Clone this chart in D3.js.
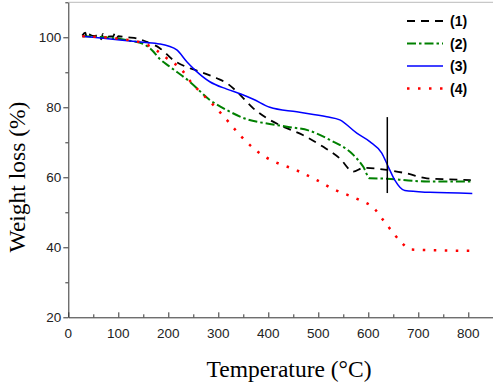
<!DOCTYPE html>
<html lang="en">
<head>
  <meta charset="UTF-8">
  <title>TGA</title>
  <script src="https://cdn.jsdelivr.net/npm/d3@7"></script>
  <style>
    body { margin: 0; background: #fff; }
  </style>
</head>
<body>
  <svg id="chart" width="493" height="383"></svg>
  <script>
    // [temperature (°C), weight (%)]
    let curve1 = [[28,100.5],[34,101.3],[37,99.8],[41,100.8],[50,100.4],[63,100.6],[66,99.4],[69,101.0],[73,100.2],
      [90,100.3],[93,101.2],[96,99.6],[100,100.3],[120,100.0],[137,99.7],[157,98.7],[183,96.9],[210,93.5],[235,91.6],
      [257,90.5],[297,88.3],[320,86.6],[337,84.5],[370,79.7],[397,76.9],[423,74.9],[470,72.0],[510,68.7],[543,65.4],
      [570,61.6],[590,62.7],[637,62.1],[677,61.1],[717,59.7],[760,59.4],[805,59.2]];
    let curve2 = [[28,100.3],[60,100.1],[100,99.6],[123,99.0],[150,98.1],[167,96.4],[183,93.8],[203,91.6],[243,87.3],
      [283,82.1],[317,79.2],[357,76.6],[400,75.3],[440,74.4],[480,73.4],[523,70.7],[570,66.4],[590,63.0],[603,59.7],
      [637,59.6],[680,59.1],[717,58.8],[807,58.8]];
    let curve3 = [[28,100.3],[70,99.7],[150,98.6],[183,98.1],[200,97.5],[217,96.4],[237,93.0],[253,90.7],[283,87.3],
      [317,85.2],[345,83.8],[370,82.3],[403,80.0],[457,78.7],[517,77.3],[543,76.4],[577,72.6],[603,70.2],[627,66.9],
      [640,63.0],[653,59.2],[673,56.2],[723,55.7],[808,55.4]];
    let curve4 = [[28,100.3],[100,99.6],[150,98.3],[177,96.2],[197,94.0],[227,90.7],[247,86.9],[270,83.5],[293,80.2],
      [320,75.9],[343,72.1],[367,68.7],[393,65.9],[423,63.8],[450,62.4],[467,61.3],[497,59.2],[530,56.6],[563,54.7],
      [583,53.5],[613,50.9],[627,48.3],[640,45.9],[653,43.5],[667,41.3],[683,39.4],[720,39.2],[803,39.0]];
    let labels = ['(1)', '(2)', '(3)', '(4)'];
    let xTicks = [0, 100, 200, 300, 400, 500, 600, 700, 800];
    let yTicks = [20, 40, 60, 80, 100];
    let marker = [638, 55.5, 77.2]; // vertical line: temperature, from, to

    let series = [
      { name: labels[0], data: curve1, color: '#000000', dash: '8,6', width: 1.8 },
      { name: labels[1], data: curve2, color: '#008000', dash: '9,3,2.5,3', width: 2 },
      { name: labels[2], data: curve3, color: '#0000ff', dash: null, width: 1.5 },
      { name: labels[3], data: curve4, color: '#ff0000', dash: '2.5,8.5', width: 2.5 }
    ];

    let svg = d3.select('#chart');
    let mLeft = 68.3, mBottom = 317.3, mTop = 2.3;

    let x = d3.scaleLinear().domain([0, 850]).range([mLeft, mLeft + 425]);
    let y = d3.scaleLinear().domain([20, 110]).range([mBottom, mTop]);

    // frame top
    svg.append('line')
      .attr('x1', mLeft).attr('x2', 493).attr('y1', mTop).attr('y2', mTop)
      .attr('stroke', '#bbbbbb').attr('stroke-width', 1);

    // x axis, ticks inside
    let xMinor = svg.append('g').attr('transform', 'translate(0,' + mBottom + ')')
      .call(d3.axisTop(x).tickValues(d3.range(50, 850, 100)).tickSize(3).tickFormat(''));
    xMinor.select('.domain').remove();
    let xMajor = svg.append('g').attr('transform', 'translate(0,' + mBottom + ')')
      .call(d3.axisTop(x).tickValues(xTicks).tickSize(5).tickSizeOuter(0).tickFormat(''));
    xMajor.selectAll('.domain').attr('stroke', '#333');
    svg.append('g').selectAll('text').data(xTicks).enter().append('text')
      .attr('x', d => x(d)).attr('y', mBottom + 21)
      .attr('text-anchor', 'middle')
      .style('font-family', 'Liberation Sans, Arial, sans-serif').style('font-size', '13.5px')
      .attr('fill', '#222')
      .text(d => d);

    // y axis, ticks outside
    let yMinor = svg.append('g').attr('transform', 'translate(' + mLeft + ',0)')
      .call(d3.axisLeft(y).tickValues([30, 50, 70, 90, 110]).tickSize(3).tickFormat(''));
    yMinor.select('.domain').remove();
    let yAxis = svg.append('g').attr('transform', 'translate(' + mLeft + ',0)')
      .call(d3.axisLeft(y).tickValues(yTicks).tickSize(5).tickSizeOuter(0).tickPadding(2));
    yAxis.selectAll('.domain').attr('stroke', '#333');
    yAxis.selectAll('text')
      .style('font-family', 'Liberation Sans, Arial, sans-serif').style('font-size', '13.5px')
      .attr('fill', '#222');
    svg.selectAll('.tick line').attr('stroke', '#333');

    // axis titles
    svg.append('text')
      .attr('x', 289).attr('y', 377)
      .attr('text-anchor', 'middle')
      .style('font-family', 'Liberation Serif, Times New Roman, serif').style('font-size', '23.5px')
      .text('Temperature (°C)');
    svg.append('text')
      .attr('transform', 'translate(25,177) rotate(-90)')
      .attr('text-anchor', 'middle')
      .style('font-family', 'Liberation Serif, Times New Roman, serif').style('font-size', '23.5px')
      .text('Weight loss (%)');

    // curves
    let line = d3.line()
      .x(d => x(d[0]))
      .y(d => y(d[1]))
      .curve(d3.curveMonotoneX);

    svg.append('g').selectAll('path').data(series).enter().append('path')
      .attr('d', d => line(d.data))
      .attr('fill', 'none')
      .attr('stroke', d => d.color)
      .attr('stroke-width', d => d.width)
      .attr('stroke-dasharray', d => d.dash);

    // vertical marker
    svg.append('line')
      .attr('x1', x(marker[0])).attr('x2', x(marker[0]))
      .attr('y1', y(marker[1])).attr('y2', y(marker[2]))
      .attr('stroke', '#000').attr('stroke-width', 1.5);

    // legend
    let legend = svg.append('g').selectAll('g').data(series).enter().append('g')
      .attr('transform', (d, i) => 'translate(407,' + (21 + i * 22.5) + ')');
    legend.append('line')
      .attr('x1', 0).attr('x2', 36)
      .attr('stroke', d => d.color)
      .attr('stroke-width', d => d.width)
      .attr('stroke-dasharray', d => d.dash);
    legend.append('text')
      .attr('x', 43).attr('y', 5)
      .style('font-family', 'Liberation Sans, Arial, sans-serif').style('font-size', '14px')
      .style('font-weight', 'bold')
      .text(d => d.name);
  </script>
</body>
</html>
